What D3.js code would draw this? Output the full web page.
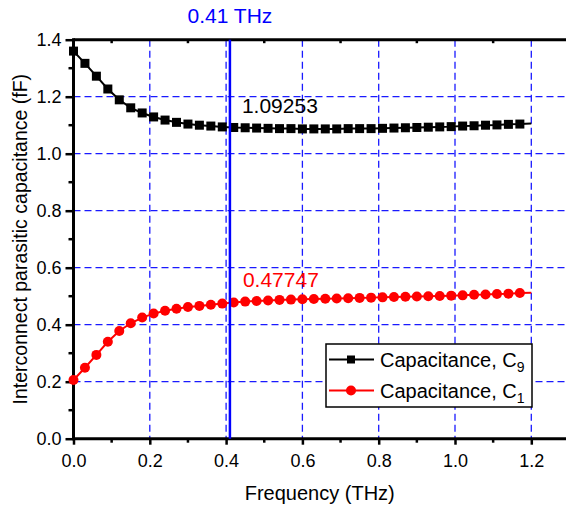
<!DOCTYPE html>
<html>
<head>
<meta charset="utf-8">
<script src="https://cdn.jsdelivr.net/npm/d3@7"></script>
<style>
  html, body { margin: 0; padding: 0; background: #fff; }
  svg { display: block; font-family: "Liberation Sans", Arial, sans-serif; }
</style>
</head>
<body>
<svg id="chart"></svg>
<script>
// frequency points (THz)
const freq = [0.00, 0.03, 0.06, 0.09, 0.12, 0.15, 0.18, 0.21, 0.24, 0.27,
              0.30, 0.33, 0.36, 0.39, 0.42, 0.45, 0.48, 0.51, 0.54, 0.57,
              0.60, 0.63, 0.66, 0.69, 0.72, 0.75, 0.78, 0.81, 0.84, 0.87,
              0.90, 0.93, 0.96, 0.99, 1.02, 1.05, 1.08, 1.11, 1.14, 1.17, 1.20];

// capacitance C9 (fF)
const capC9 = [1.360, 1.317, 1.272, 1.227, 1.189, 1.161, 1.143, 1.129, 1.118, 1.110,
               1.104, 1.100, 1.097, 1.094, 1.092, 1.091, 1.090, 1.089, 1.088, 1.088,
               1.087, 1.087, 1.087, 1.087, 1.088, 1.088, 1.088, 1.089, 1.090, 1.091,
               1.092, 1.093, 1.094, 1.095, 1.097, 1.098, 1.100, 1.101, 1.103, 1.104, 1.106];

// capacitance C1 (fF)
const capC1 = [0.206, 0.249, 0.294, 0.340, 0.378, 0.405, 0.425, 0.439, 0.449, 0.456,
               0.462, 0.466, 0.470, 0.474, 0.478, 0.481, 0.483, 0.485, 0.487, 0.488,
               0.489, 0.490, 0.491, 0.492, 0.493, 0.494, 0.495, 0.496, 0.497, 0.498,
               0.499, 0.500, 0.501, 0.502, 0.503, 0.505, 0.506, 0.508, 0.509, 0.511, 0.512];

const xTicks = [0.0, 0.2, 0.4, 0.6, 0.8, 1.0, 1.2];
const xMinor = [0.1, 0.3, 0.5, 0.7, 0.9, 1.1];
const yTicks = [0.0, 0.2, 0.4, 0.6, 0.8, 1.0, 1.2, 1.4];
const yMinor = [0.1, 0.3, 0.5, 0.7, 0.9, 1.1, 1.3];

// marker line
const markFreq = 0.41;
const markLabel = "0.41 THz";
const c9Label = "1.09253", c9Value = 1.09253;
const c1Label = "0.47747", c1Value = 0.47747;

const width = 566, height = 508;
const plotLeft = 73.5, plotTop = 39.7, plotBottom = 438.7;

const svg = d3.select("#chart").attr("width", width).attr("height", height);

const x = d3.scaleLinear().domain([0, 1.3]).range([plotLeft, plotLeft + 1.3 * 381.5]);
const y = d3.scaleLinear().domain([0, 1.4]).range([plotBottom, plotTop]);

const font = 18;
const grid = "#1a1aff";

// grid lines
svg.append("g").selectAll("line")
    .data(xTicks.filter(d => d > 0))
    .enter().append("line")
    .attr("x1", d => x(d)).attr("x2", d => x(d))
    .attr("y1", plotTop).attr("y2", plotBottom)
    .attr("stroke", grid).attr("stroke-width", 1.3)
    .attr("stroke-dasharray", "7,4");

svg.append("g").selectAll("line")
    .data(yTicks.filter(d => d > 0 && d < 1.4))
    .enter().append("line")
    .attr("x1", plotLeft).attr("x2", width)
    .attr("y1", d => y(d)).attr("y2", d => y(d))
    .attr("stroke", grid).attr("stroke-width", 1.3)
    .attr("stroke-dasharray", "7,4");

// bottom axis
const xAxis = svg.append("g").attr("transform", `translate(0,${plotBottom})`);
xAxis.call(d3.axisBottom(x).tickValues(xTicks).tickFormat(d3.format(".1f")).tickSize(6).tickPadding(10))
    .call(g => g.select(".domain").remove());
xAxis.selectAll(".tick line").attr("stroke", "#000").attr("stroke-width", 2.5);
xAxis.selectAll(".tick text").attr("font-size", font).attr("fill", "#000").style("font-family", "inherit");
xAxis.selectAll(".minor").data(xMinor).enter().append("line")
    .attr("x1", d => x(d)).attr("x2", d => x(d)).attr("y1", 0).attr("y2", 4)
    .attr("stroke", "#000").attr("stroke-width", 2.5);

// left axis
const yAxis = svg.append("g").attr("transform", `translate(${plotLeft},0)`);
yAxis.call(d3.axisLeft(y).tickValues(yTicks).tickFormat(d3.format(".1f")).tickSize(8).tickPadding(4))
    .call(g => g.select(".domain").remove());
yAxis.selectAll(".tick line").attr("stroke", "#000").attr("stroke-width", 2.5);
yAxis.selectAll(".tick text").attr("font-size", font).attr("fill", "#000").style("font-family", "inherit");
yAxis.selectAll(".minor").data(yMinor).enter().append("line")
    .attr("y1", d => y(d)).attr("y2", d => y(d)).attr("x1", 0).attr("x2", -5)
    .attr("stroke", "#000").attr("stroke-width", 2.5);

// top axis ticks (inward)
svg.append("g").selectAll("line")
    .data(xMinor)
    .enter().append("line")
    .attr("x1", d => x(d)).attr("x2", d => x(d))
    .attr("y1", plotTop).attr("y2", plotTop + 3.5)
    .attr("stroke", "#000").attr("stroke-width", 2.5);

// axis frame lines
svg.append("line").attr("x1", plotLeft).attr("x2", width).attr("y1", plotBottom).attr("y2", plotBottom)
    .attr("stroke", "#000").attr("stroke-width", 3);
svg.append("line").attr("x1", plotLeft).attr("x2", width).attr("y1", plotTop).attr("y2", plotTop)
    .attr("stroke", "#000").attr("stroke-width", 3);
svg.append("line").attr("x1", plotLeft).attr("x2", plotLeft).attr("y1", plotTop - 1.5).attr("y2", plotBottom + 1.5)
    .attr("stroke", "#000").attr("stroke-width", 3);

// series
const c9 = freq.map((f, i) => ({ f: f, v: capC9[i] }));
const c1 = freq.map((f, i) => ({ f: f, v: capC1[i] }));
const line = d3.line().x(d => x(d.f)).y(d => y(d.v));

svg.append("path").datum(c9).attr("d", line)
    .attr("fill", "none").attr("stroke", "#000").attr("stroke-width", 2);
svg.append("path").datum(c1).attr("d", line)
    .attr("fill", "none").attr("stroke", "#ff0000").attr("stroke-width", 2);

svg.append("g").selectAll("rect")
    .data(c9.filter(d => d.f < 1.19))
    .enter().append("rect")
    .attr("x", d => x(d.f) - 4.5).attr("y", d => y(d.v) - 4.5)
    .attr("width", 9).attr("height", 9).attr("fill", "#000");

svg.append("g").selectAll("circle")
    .data(c1.filter(d => d.f < 1.19))
    .enter().append("circle")
    .attr("cx", d => x(d.f)).attr("cy", d => y(d.v))
    .attr("r", 5).attr("fill", "#ff0000");

// vertical marker at 0.41 THz
svg.append("line")
    .attr("x1", x(markFreq)).attr("x2", x(markFreq))
    .attr("y1", plotTop).attr("y2", plotBottom)
    .attr("stroke", "#0000ff").attr("stroke-width", 2.5);

svg.append("text")
    .attr("x", x(markFreq)).attr("y", 23)
    .attr("text-anchor", "middle").attr("font-size", 21).attr("fill", "#0000ff")
    .text(markLabel);

svg.append("text")
    .attr("x", x(markFreq) + 12).attr("y", y(c9Value) - 14)
    .attr("font-size", 21).attr("fill", "#000")
    .text(c9Label);

svg.append("text")
    .attr("x", x(markFreq) + 13).attr("y", y(c1Value) - 16)
    .attr("font-size", 21).attr("fill", "#ff0000")
    .text(c1Label);

// legend
const lg = svg.append("g").attr("transform", "translate(326,344)");
lg.append("rect").attr("width", 206).attr("height", 63)
    .attr("fill", "#fff").attr("stroke", "#000").attr("stroke-width", 1.5);
const entries = [
    { color: "#000", shape: "square", sub: "9" },
    { color: "#ff0000", shape: "circle", sub: "1" }
];
entries.forEach((e, i) => {
    const cy = 15.5 + i * 31;
    lg.append("line").attr("x1", 3).attr("x2", 48).attr("y1", cy).attr("y2", cy)
        .attr("stroke", e.color).attr("stroke-width", 2);
    if (e.shape === "square") {
        lg.append("rect").attr("x", 25 - 4).attr("y", cy - 4).attr("width", 8).attr("height", 8).attr("fill", e.color);
    } else {
        lg.append("circle").attr("cx", 25).attr("cy", cy).attr("r", 5).attr("fill", e.color);
    }
    const t = lg.append("text").attr("x", 54).attr("y", cy + 7).attr("font-size", 20).attr("fill", "#000");
    t.append("tspan").text("Capacitance, C");
    t.append("tspan").attr("font-size", 14).attr("dy", 5).text(e.sub);
});

// axis titles
svg.append("text")
    .attr("x", (plotLeft + width) / 2).attr("y", 500)
    .attr("text-anchor", "middle").attr("font-size", 20).attr("fill", "#000")
    .text("Frequency (THz)");

svg.append("text")
    .attr("transform", `translate(27,${(plotTop + plotBottom) / 2}) rotate(-90)`)
    .attr("text-anchor", "middle").attr("font-size", 19.5).attr("fill", "#000")
    .text("Interconnect parasitic capacitance (fF)");
</script>
</body>
</html>
